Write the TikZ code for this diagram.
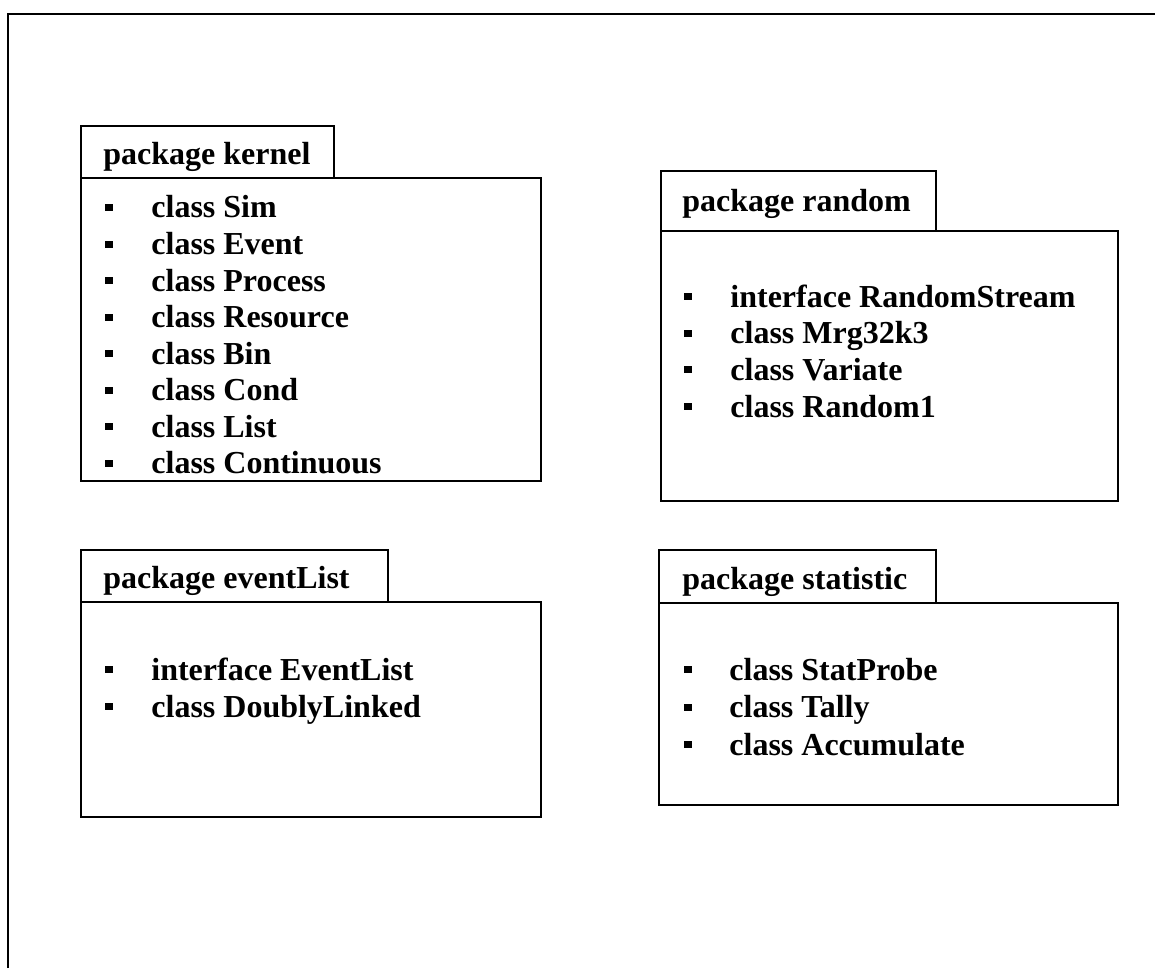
\documentclass[tikz,border=0pt]{standalone}
\usepackage{fontspec}
\setmainfont{Liberation Serif}
\usetikzlibrary{positioning}

\begin{document}
\begin{tikzpicture}[x=0.5pt,y=-0.5pt,
		pkgline/.style={line width=1pt},
		pkgtitle/.style={anchor=base west,inner sep=0pt,font=\fontsize{16}{18}\selectfont\bfseries},
		entry/.style={anchor=base west,inner sep=0pt,font=\fontsize{16}{18}\selectfont\bfseries}]
		\useasboundingbox (0,0) rectangle (1155,968);
		% outer frame
		\draw[line width=1.3pt] (8,968) -- (8,14) -- (1155,14);
		% package kernel
		\draw[pkgline] (81,178) rectangle (541,481);
		\draw[pkgline] (81,178) -- (81,126) -- (334,126) -- (334,178);
		\node[pkgtitle] (kernel) at (103,165) {package kernel};
		\foreach \txt [count=\i] in {class Sim,class Event,class Process,class Resource,class Bin,class Cond,class List,class Continuous}{
			\pgfmathsetmacro\yy{218+(\i-1)*36.5}
			\fill (105,\yy-14) rectangle (113,\yy-7);
			\node[entry] (kernel-\i) at (151,\yy) {\txt};
		}
		% package random
		\draw[pkgline] (661,231) rectangle (1118,501);
		\draw[pkgline] (661,231) -- (661,171) -- (936,171) -- (936,231);
		\node[pkgtitle] (random) at (682,212) {package random};
		\foreach \txt [count=\i] in {interface RandomStream,class Mrg32k3,class Variate,class Random1}{
			\pgfmathsetmacro\yy{307+(\i-1)*36.7}
			\fill (684,\yy-14) rectangle (692,\yy-7);
			\node[entry] (random-\i) at (730,\yy) {\txt};
		}
		% package eventList
		\draw[pkgline] (81,602) rectangle (541,817);
		\draw[pkgline] (81,602) -- (81,550) -- (388,550) -- (388,602);
		\node[pkgtitle] (eventlist) at (103,588) {package eventList};
		\foreach \txt [count=\i] in {interface EventList,class DoublyLinked}{
			\pgfmathsetmacro\yy{680+(\i-1)*37}
			\fill (105,\yy-14) rectangle (113,\yy-7);
			\node[entry] (eventlist-\i) at (151,\yy) {\txt};
		}
		% package statistic
		\draw[pkgline] (659,603) rectangle (1118,805);
		\draw[pkgline] (659,603) -- (659,550) -- (936,550) -- (936,603);
		\node[pkgtitle] (statistic) at (682,589) {package statistic};
		\foreach \txt [count=\i] in {class StatProbe,class Tally,class Accumulate}{
			\pgfmathsetmacro\yy{680+(\i-1)*37.5}
			\fill (684,\yy-14) rectangle (692,\yy-7);
			\node[entry] (statistic-\i) at (729,\yy) {\txt};
		}
	\end{tikzpicture}
\end{document}
